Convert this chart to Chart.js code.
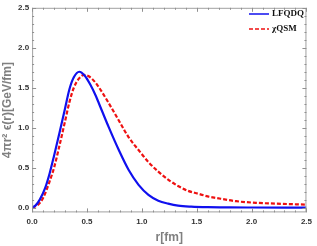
<!DOCTYPE html>
<html>
<head>
<meta charset="utf-8">
<script src="https://cdn.jsdelivr.net/npm/chart.js@4"></script>
<style>
  html, body { margin: 0; padding: 0; background: #fff; }
  #wrap { width: 317px; height: 246px; }
</style>
</head>
<body>
<div id="wrap"><canvas id="chart" width="317" height="246"></canvas></div>
<script>
// data
const rBlue = [0, 0.03, 0.07, 0.12, 0.16, 0.2, 0.25, 0.3, 0.34, 0.38, 0.43, 0.48, 0.53, 0.58, 0.61, 0.7, 0.79, 0.88, 0.97, 1.06, 1.15, 1.24, 1.33, 1.45, 1.6, 1.8, 2.0, 2.5];
const lfqdq = [0, 0.025, 0.1, 0.25, 0.43, 0.65, 0.94, 1.24, 1.48, 1.63, 1.70, 1.65, 1.54, 1.40, 1.30, 1.0, 0.72, 0.47, 0.285, 0.16, 0.087, 0.05, 0.025, 0.012, 0.005, 0.002, 0.001, 0];
const rRed = [0, 0.05, 0.1, 0.16, 0.2, 0.25, 0.3, 0.34, 0.38, 0.43, 0.475, 0.52, 0.58, 0.63, 0.684, 0.79, 0.88, 0.97, 1.06, 1.15, 1.24, 1.33, 1.42, 1.51, 1.6, 1.68, 1.86, 2.04, 2.22, 2.5];
const xqsm = [0, 0.03, 0.12, 0.33, 0.5, 0.78, 1.08, 1.32, 1.5, 1.62, 1.66, 1.64, 1.56, 1.46, 1.34, 1.09, 0.88, 0.72, 0.57, 0.45, 0.35, 0.27, 0.21, 0.175, 0.14, 0.12, 0.08, 0.06, 0.05, 0.037];
const seriesNames = ['LFQDQ', 'χQSM'];
const tickLabels = ['0.0', '0.5', '1.0', '1.5', '2.0', '2.5'];

const toPoints = (xs, ys) => xs.map((x, i) => ({ x: x, y: ys[i] }));

// Mathematica style frame, ticks on all sides, legend
const framePlugin = {
  id: 'frame',
  afterDraw(chart) {
    const ctx = chart.ctx;
    const a = chart.chartArea;
    const xs = chart.scales.x, ys = chart.scales.y;
    ctx.save();
    ctx.strokeStyle = '#a0a0a0';
    ctx.lineWidth = 1;
    ctx.strokeRect(a.left + 0.5, a.top + 0.5, a.right - a.left - 1, a.bottom - a.top - 1);
    ctx.strokeStyle = '#909090';
    for (let i = 0; i <= 25; i++) {
      const v = i / 10;
      const len = i % 5 === 0 ? 4 : 2;
      const px = Math.round(xs.getPixelForValue(v)) + 0.5;
      ctx.beginPath();
      ctx.moveTo(px, a.bottom); ctx.lineTo(px, a.bottom - len);
      ctx.moveTo(px, a.top); ctx.lineTo(px, a.top + len);
      ctx.stroke();
      const py = Math.round(ys.getPixelForValue(v)) + 0.5;
      ctx.beginPath();
      ctx.moveTo(a.left, py); ctx.lineTo(a.left + len, py);
      ctx.moveTo(a.right, py); ctx.lineTo(a.right - len, py);
      ctx.stroke();
    }
    // legend
    const items = chart.data.datasets;
    ctx.font = 'bold 9px "Liberation Serif", serif';
    ctx.textBaseline = 'middle';
    items.forEach((ds, i) => {
      const y = 14 + i * 15;
      ctx.strokeStyle = ds.borderColor;
      ctx.lineWidth = 1.5;
      ctx.setLineDash(ds.borderDash || []);
      ctx.beginPath();
      ctx.moveTo(249, y); ctx.lineTo(269, y);
      ctx.stroke();
      ctx.setLineDash([]);
      ctx.fillStyle = '#111';
      ctx.fillText(ds.label, 272, y);
    });
    ctx.restore();
  }
};

const tickFont = { family: 'Liberation Sans', size: 8, weight: 'bold' };
const titleFont = { family: 'Liberation Sans', size: 12, weight: 'bold', lineHeight: 1 };

new Chart(document.getElementById('chart'), {
  type: 'scatter',
  data: {
    datasets: [{
      label: seriesNames[0],
      data: toPoints(rBlue, lfqdq),
      showLine: true,
      borderColor: '#1010ee',
      borderWidth: 2.2,
      pointRadius: 0,
      cubicInterpolationMode: 'monotone'
    }, {
      label: seriesNames[1],
      data: toPoints(rRed, xqsm),
      showLine: true,
      borderColor: '#ee1111',
      borderWidth: 2.2,
      borderDash: [4, 2],
      pointRadius: 0,
      cubicInterpolationMode: 'monotone'
    }]
  },
  options: {
    responsive: false,
    animation: false,
    layout: { padding: { top: 5, right: 5, left: 0, bottom: 2 } },
    plugins: { legend: { display: false }, tooltip: { enabled: false } },
    scales: {
      x: {
        type: 'linear', min: 0, max: 2.5,
        grid: { display: false, drawTicks: false },
        border: { display: false },
        afterBuildTicks: s => { s.ticks = tickLabels.map(t => ({ value: parseFloat(t) })); },
        ticks: {
          padding: 5,
          color: '#333',
          font: tickFont,
          callback: v => v.toFixed(1)
        },
        title: {
          display: true, text: 'r[fm]', color: '#808080', padding: { top: 0, bottom: 0 },
          font: titleFont
        }
      },
      y: {
        type: 'linear', min: -0.06, max: 2.5,
        grid: { display: false, drawTicks: false },
        border: { display: false },
        afterBuildTicks: s => { s.ticks = tickLabels.map(t => ({ value: parseFloat(t) })); },
        ticks: {
          padding: 3,
          color: '#333',
          font: tickFont,
          callback: v => v.toFixed(1)
        },
        title: {
          display: true, text: '4πr² ϵ(r)[GeV/fm]', color: '#808080', padding: { top: 2, bottom: 1 },
          font: titleFont
        }
      }
    }
  },
  plugins: [framePlugin]
});
</script>
</body>
</html>
